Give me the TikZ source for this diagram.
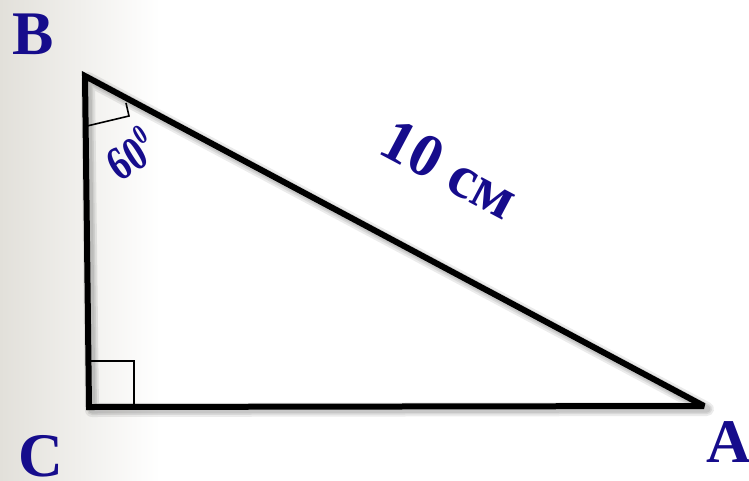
\documentclass[tikz,border=0pt]{standalone}
\usepackage{fontspec}
\setmainfont{Liberation Serif}
\definecolor{lbl}{RGB}{22,12,140}
\definecolor{bgl}{RGB}{226,224,218}
\begin{document}
\begin{tikzpicture}[x=1pt,y=-1pt,
  side/.style={line width=6pt, line join=miter, miter limit=2.05},
  sideshadow/.style={black, opacity=0.08, line join=round},
  anglemark/.style={line width=1.6pt},
  lab/.style={text=lbl, font=\bfseries\fontsize{62}{62}\selectfont, inner sep=0pt}]
\useasboundingbox (0,0) rectangle (749,480);
\fill[white] (0,0) rectangle (749,480);
\shade[left color=bgl, right color=white] (0,0) rectangle (160,480);
% vertices
\coordinate (B) at (85,76);
\coordinate (C) at (89,407);
\coordinate (A) at (704,406);
% soft shadows of sides
\begin{scope}[shift={(3,3)}]
\draw[sideshadow, line width=14pt] (85,76) -- (89,407) -- (704,406) -- cycle;
\draw[sideshadow, line width=10pt] (85,76) -- (89,407) -- (704,406) -- cycle;
\draw[sideshadow, line width=7pt] (85,76) -- (89,407) -- (704,406) -- cycle;
\end{scope}
% right angle at C
\draw[anglemark] (91,361) -- (134,361) -- (134,407);
% angle mark at B
\draw[anglemark] (87,126) -- (129,116) -- (126,103);
% triangle
\draw[side] (B) -- (C) -- (A) -- cycle;
% labels
\node[lab, anchor=base west] (Bl) at (12,54) {B};
\node[lab, anchor=base west] (Cl) at (18,476) {C};
\node[lab, anchor=base west] (Al) at (706,462) {A};
\node[lab, font=\bfseries\fontsize{61}{61}\selectfont, rotate=-28] (hyp) at (450,169) {10 см};
\node[lab, font=\bfseries\fontsize{48}{48}\selectfont, rotate=32] (ang) at (130,153) {\scalebox{0.78}[1]{60\raisebox{0.42em}{\fontsize{28}{28}\selectfont 0}}};
\end{tikzpicture}
\end{document}
